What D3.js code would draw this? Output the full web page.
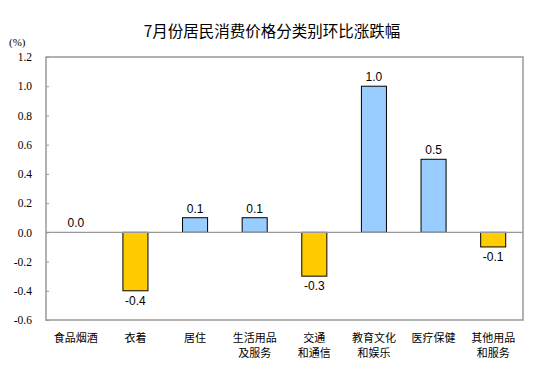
<!DOCTYPE html>
<html>
<head>
<meta charset="utf-8">
<script src="https://cdn.jsdelivr.net/npm/d3@7"></script>
<style>
  body { margin: 0; background: #fff; }
  svg { display: block; }
</style>
</head>
<body>
<div id="chart"></div>
<script>
const categories = [
  ["食品烟酒"],
  ["衣着"],
  ["居住"],
  ["生活用品", "及服务"],
  ["交通", "和通信"],
  ["教育文化", "和娱乐"],
  ["医疗保健"],
  ["其他用品", "和服务"]
]
const values = [0.0, -0.4, 0.1, 0.1, -0.3, 1.0, 0.5, -0.1]
const yTicks = [1.2, 1.0, 0.8, 0.6, 0.4, 0.2, 0.0, -0.2, -0.4, -0.6]

const width = 558, height = 388
const margin = { top: 57, right: 35, bottom: 68, left: 46 }
const axisColor = "#999999"
const fmt = d => d.toFixed(1)

const svg = d3.select("#chart")
  .append("svg")
  .attr("width", width)
  .attr("height", height)

const x = d3.scaleBand()
  .domain(d3.range(categories.length))
  .range([margin.left, width - margin.right])
  .paddingInner(0.58)
  .paddingOuter(0.29)

const y = d3.scaleLinear()
  .domain([-0.6, 1.2])
  .range([height - margin.bottom, margin.top])

// title
svg.append("text")
  .attr("x", 272)
  .attr("y", 37)
  .attr("text-anchor", "middle")
  .attr("font-family", "Noto Sans CJK SC")
  .attr("font-size", 15.5)
  .attr("fill", "#000")
  .text("7月份居民消费价格分类别环比涨跌幅")

svg.append("text")
  .attr("x", 9)
  .attr("y", 46)
  .attr("font-family", "Liberation Serif")
  .attr("font-size", 11)
  .text("(%)")

// plot frame
svg.append("rect")
  .attr("x", margin.left)
  .attr("y", margin.top)
  .attr("width", width - margin.right - margin.left)
  .attr("height", height - margin.bottom - margin.top)
  .attr("fill", "none")
  .attr("stroke", axisColor)
  .attr("stroke-width", 1.5)

// y axis
const yAxis = svg.append("g")
  .attr("transform", `translate(${margin.left},0)`)
  .call(d3.axisLeft(y).tickValues(yTicks).tickSize(-3).tickPadding(14).tickFormat(fmt))
yAxis.select(".domain").remove()
yAxis.selectAll(".tick line").attr("stroke", axisColor)
yAxis.selectAll(".tick text")
  .attr("font-family", "Liberation Serif")
  .attr("font-size", 11.5)
  .attr("fill", "#000")

// bars
svg.selectAll("rect.bar")
  .data(values)
  .enter()
    .append("rect")
    .attr("class", "bar")
    .attr("x", (d, i) => x(i))
    .attr("width", x.bandwidth())
    .attr("y", d => y(Math.max(0, d)))
    .attr("height", d => Math.abs(y(d) - y(0)))
    .attr("fill", d => d >= 0 ? "#99CCFF" : "#FFCC00")
    .attr("stroke", d => d === 0 ? "none" : "#000")
    .attr("stroke-width", 1)

// zero line
svg.append("line")
  .attr("x1", margin.left)
  .attr("x2", width - margin.right)
  .attr("y1", y(0))
  .attr("y2", y(0))
  .attr("stroke", axisColor)
  .attr("stroke-width", 1.2)

// value labels
svg.selectAll("text.value")
  .data(values)
  .enter()
    .append("text")
    .attr("class", "value")
    .attr("x", (d, i) => x(i) + x.bandwidth() / 2)
    .attr("y", d => d >= 0 ? y(d) - 5 : y(d) + 14)
    .attr("text-anchor", "middle")
    .attr("font-family", "Liberation Sans")
    .attr("font-size", 12)
    .attr("fill", "#000")
    .text(fmt)

// category labels, one text per line
const catLines = categories.flatMap((lines, i) => lines.map((t, j) => ({ t, i, j })))
svg.selectAll("text.cat")
  .data(catLines)
  .enter()
    .append("text")
    .attr("class", "cat")
    .attr("x", d => x(d.i) + x.bandwidth() / 2)
    .attr("y", d => 342 + d.j * 15)
    .attr("text-anchor", "middle")
    .attr("font-family", "Noto Sans CJK SC")
    .attr("font-size", 11)
    .attr("fill", "#000")
    .text(d => d.t)
</script>
</body>
</html>
